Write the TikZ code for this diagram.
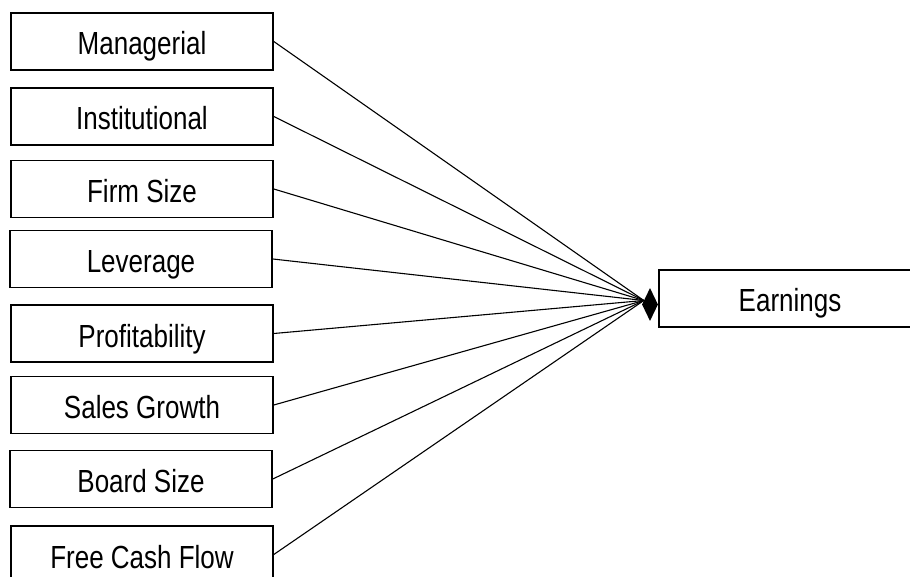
\documentclass[tikz,border=0pt]{standalone}
\usepackage{fontspec}
\setmainfont{Liberation Sans}
\usetikzlibrary{shapes.geometric}
\begin{document}
\begin{tikzpicture}[x=1pt,y=-1pt,
  varbox/.style={draw=black, line width=1.6pt, minimum width=262pt, minimum height=57pt,
    inner sep=0pt, text height=27pt, text depth=0pt, font=\fontsize{26pt}{28pt}\selectfont},
  headmark/.style={diamond, fill=black, draw=none, inner sep=0pt, minimum width=16pt, minimum height=33pt},
  link/.style={line width=1.1pt}]
\useasboundingbox (0,0) rectangle (910,577);
\newcommand{\tall}[1]{\scalebox{1}[1.23]{#1}}
\node[varbox] (man)  at (142, 41.5)  {\tall{Managerial}};
\node[varbox] (inst) at (142, 116.5) {\tall{Institutional}};
\node[varbox] (size) at (142, 189)   {\tall{Firm Size}};
\node[varbox] (lev)  at (141, 259)   {\tall{Leverage}};
\node[varbox] (prof) at (142, 333.5) {\tall{Profitability}};
\node[varbox] (sales) at (142, 405)  {\tall{Sales Growth}};
\node[varbox] (board) at (141, 479)  {\tall{Board Size}};
\node[varbox] (fcf)  at (142, 554.5) {\tall{Free Cash Flow}};
\node[varbox] (earn) at (790, 298.5) {\tall{Earnings}};
% shared diamond head where all links meet the outcome box
\node[headmark, anchor=east] (head) at ([yshift=-6pt]earn.west) {};
\foreach \src in {man,inst,size,lev,prof,sales,board,fcf}
  \draw[link] (\src.east) -- ([xshift=2pt,yshift=4pt]head.west);
\end{tikzpicture}
\end{document}
